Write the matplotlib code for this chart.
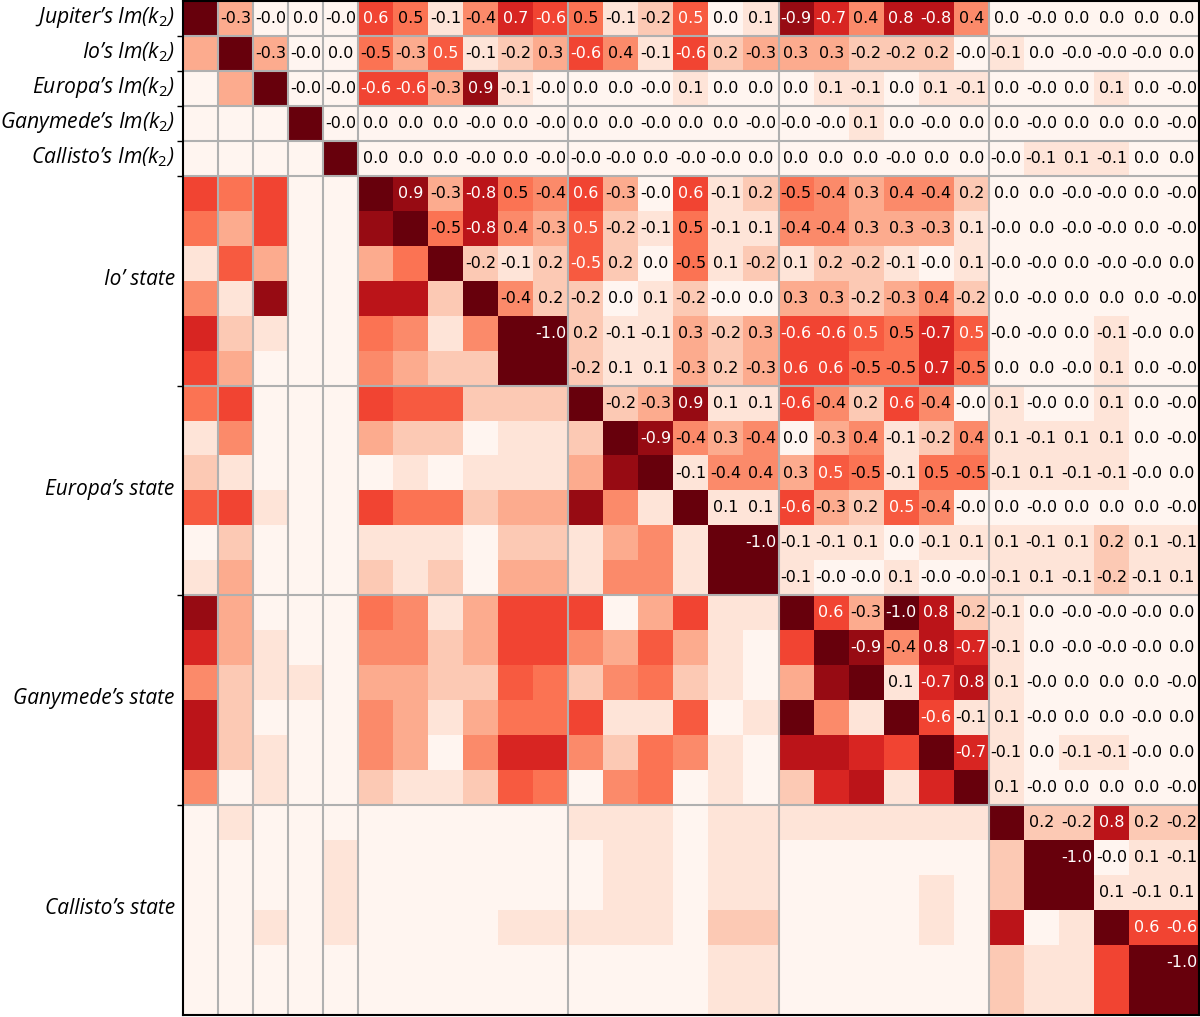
import numpy as np
import matplotlib.pyplot as plt
from matplotlib.transforms import ScaledTranslation

# row labels (Im(k2) rows, then 6-row state groups)
im_labels = ["Jupiter’s Im($k_2$)", "Io’s Im($k_2$)", "Europa’s Im($k_2$)",
             "Ganymede’s Im($k_2$)", "Callisto’s Im($k_2$)"]
state_labels = ["Io’ state", "Europa’s state", "Ganymede’s state", "Callisto’s state"]
state_size = 6

# upper triangle of the correlation matrix, row i holds columns i+1 .. 28
upper = [
    [-0.3, -0.0, 0.0, -0.0, 0.6, 0.47, -0.1, -0.4, 0.7, -0.6, 0.47, -0.1, -0.2, 0.54, 0.0, 0.1,
     -0.9, -0.7, 0.4, 0.8, -0.8, 0.4, 0.0, -0.0, 0.0, 0.0, 0.0, 0.0],
    [-0.3, -0.0, 0.0, -0.47, -0.3, 0.54, -0.1, -0.2, 0.3, -0.6, 0.4, -0.1, -0.6, 0.2, -0.3,
     0.3, 0.3, -0.2, -0.2, 0.2, -0.0, -0.1, 0.0, -0.0, -0.0, -0.0, 0.0],
    [-0.0, -0.0, -0.6, -0.6, -0.3, 0.9, -0.1, -0.0, 0.0, 0.0, -0.0, 0.1, 0.0, 0.0,
     0.0, 0.1, -0.1, 0.0, 0.1, -0.1, 0.0, -0.0, 0.0, 0.1, 0.0, -0.0],
    [-0.0, 0.0, 0.0, 0.0, -0.0, 0.0, -0.0, 0.0, 0.0, -0.0, 0.0, 0.0, -0.0,
     -0.0, -0.0, 0.1, 0.0, -0.0, 0.0, 0.0, -0.0, 0.0, 0.0, 0.0, -0.0],
    [0.0, 0.0, 0.0, -0.0, 0.0, -0.0, -0.0, -0.0, 0.0, -0.0, -0.0, 0.0,
     0.0, 0.0, 0.0, -0.0, 0.0, 0.0, -0.0, -0.1, 0.1, -0.1, 0.0, 0.0],
    [0.9, -0.3, -0.8, 0.47, -0.4, 0.6, -0.3, -0.0, 0.6, -0.1, 0.2,
     -0.47, -0.4, 0.3, 0.4, -0.4, 0.2, 0.0, 0.0, -0.0, -0.0, 0.0, -0.0],
    [-0.47, -0.8, 0.4, -0.3, 0.54, -0.2, -0.1, 0.47, -0.1, 0.1,
     -0.4, -0.4, 0.3, 0.3, -0.3, 0.1, -0.0, 0.0, -0.0, -0.0, 0.0, -0.0],
    [-0.2, -0.1, 0.2, -0.54, 0.2, 0.0, -0.47, 0.1, -0.2,
     0.1, 0.2, -0.2, -0.1, -0.0, 0.1, -0.0, -0.0, 0.0, -0.0, -0.0, 0.0],
    [-0.4, 0.2, -0.2, 0.0, 0.1, -0.2, -0.0, 0.0,
     0.3, 0.3, -0.2, -0.3, 0.4, -0.2, 0.0, -0.0, 0.0, 0.0, 0.0, -0.0],
    [-1.0, 0.2, -0.1, -0.1, 0.3, -0.2, 0.3,
     -0.6, -0.6, 0.54, 0.47, -0.7, 0.54, -0.0, -0.0, 0.0, -0.1, -0.0, 0.0],
    [-0.2, 0.1, 0.1, -0.3, 0.2, -0.3,
     0.6, 0.6, -0.47, -0.47, 0.7, -0.47, 0.0, 0.0, -0.0, 0.1, 0.0, -0.0],
    [-0.2, -0.3, 0.9, 0.1, 0.1, -0.6, -0.4, 0.2, 0.6, -0.4, -0.0,
     0.1, -0.0, 0.0, 0.1, 0.0, -0.0],
    [-0.9, -0.4, 0.3, -0.4, 0.0, -0.3, 0.4, -0.1, -0.2, 0.4,
     0.1, -0.1, 0.1, 0.1, 0.0, -0.0],
    [-0.1, -0.4, 0.4, 0.3, 0.54, -0.47, -0.1, 0.47, -0.47,
     -0.1, 0.1, -0.1, -0.1, -0.0, 0.0],
    [0.1, 0.1, -0.6, -0.3, 0.2, 0.54, -0.4, -0.0,
     0.0, -0.0, 0.0, 0.0, 0.0, -0.0],
    [-1.0, -0.1, -0.1, 0.1, 0.0, -0.1, 0.1,
     0.1, -0.1, 0.1, 0.2, 0.1, -0.1],
    [-0.1, -0.0, -0.0, 0.1, -0.0, -0.0, -0.1, 0.1, -0.1, -0.2, -0.1, 0.1],
    [0.6, -0.3, -1.0, 0.8, -0.2, -0.1, 0.0, -0.0, -0.0, -0.0, 0.0],
    [-0.9, -0.4, 0.8, -0.7, -0.1, 0.0, -0.0, -0.0, -0.0, 0.0],
    [0.1, -0.7, 0.8, 0.1, -0.0, 0.0, 0.0, 0.0, -0.0],
    [-0.6, -0.1, 0.1, -0.0, 0.0, 0.0, -0.0, 0.0],
    [-0.7, -0.1, 0.0, -0.1, -0.1, -0.0, 0.0],
    [0.1, -0.0, 0.0, 0.0, 0.0, -0.0],
    [0.2, -0.2, 0.8, 0.2, -0.2],
    [-1.0, -0.0, 0.1, -0.1],
    [0.1, -0.1, 0.1],
    [0.6, -0.6],
    [-1.0],
]

n = len(upper) + 1
corr = np.eye(n)
for i, row in enumerate(upper):
    corr[i, i + 1:] = row
    corr[i + 1:, i] = row

plt.rcParams['mathtext.fontset'] = 'custom'
plt.rcParams['mathtext.it'] = 'Open Sans:italic'
plt.rcParams['mathtext.rm'] = 'Open Sans'

fig = plt.figure(figsize=(12, 10.17), dpi=100)
ax = fig.add_axes([183 / 1200, 2 / 1017, 1016 / 1200, 1014 / 1017])
ax.imshow(np.abs(corr), cmap='Reds', vmin=0, vmax=1, aspect='auto', interpolation='nearest')

for i in range(n):
    for j in range(i + 1, n):
        v = corr[i, j]
        ax.text(j, i, f"{v:.1f}", ha='center', va='center', fontsize=11.5,
                color='white' if abs(v) > 0.5 else 'black')

n_im = len(im_labels)
bounds = list(range(1, n_im + 1)) + [n_im + state_size * k for k in range(1, len(state_labels))]
for b in bounds:
    ax.axhline(b - 0.5, color='#b0b0b0', lw=1.5)
    ax.axvline(b - 0.5, color='#b0b0b0', lw=1.5)

ax.set_xticks([])
ax.set_yticks([b - 0.5 for b in bounds])
ax.set_yticklabels([])
ax.tick_params(axis='y', which='major', length=4, width=1)
centers = list(range(n_im)) + [n_im + state_size * k + (state_size - 1) / 2 for k in range(len(state_labels))]
ax.set_yticks(centers, minor=True)
ax.set_yticklabels(im_labels + state_labels, minor=True, fontstyle='italic', family='Open Sans')
ax.tick_params(axis='y', which='minor', length=0, pad=6)

# nudge labels up a little, as in the original
shift = ScaledTranslation(0, 4 / 100, fig.dpi_scale_trans)
for k, lab in enumerate(ax.get_yticklabels(minor=True)):
    lab.set_fontsize(15.2 if k < n_im else 15)
    lab.set_transform(lab.get_transform() + shift)

for s in ax.spines.values():
    s.set_linewidth(1.5)
    s.set_color('black')

fig.savefig('out.png', dpi=100)
